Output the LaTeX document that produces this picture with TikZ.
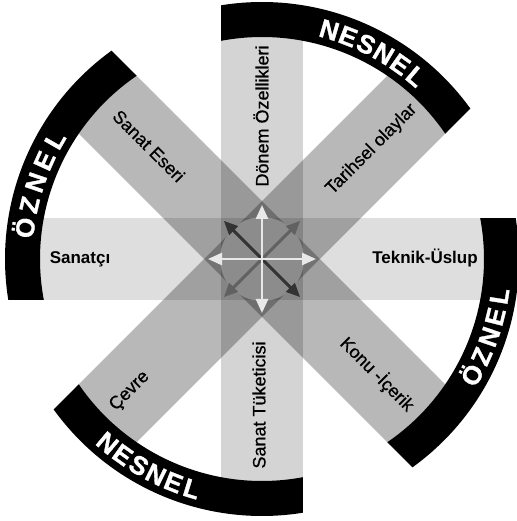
\documentclass[tikz,border=0pt]{standalone}
\usepackage{fontspec}
\setmainfont{Liberation Sans}
\newfontfamily\ringfont[BoldFeatures={FakeBold=1.3}]{Liberation Sans}
\newfontfamily\labelfont[FakeBold=0.7]{Liberation Sans}
\usepackage{tikz}
\usetikzlibrary{arrows.meta}
\colorlet{ringblack}{black}
\colorlet{hubgray}{black!45}
\colorlet{crosswhite}{black!9}
\colorlet{darkarrow}{black!80}
\colorlet{midarrow}{black!62}
\tikzset{
  band/.style={fill=black,fill opacity=#1},
  bandlabel/.style={font=\labelfont\fontsize{18}{20}\selectfont,inner sep=0pt},
  sidelabel/.style={font=\bfseries\fontsize{17}{19}\selectfont,inner sep=0pt,anchor=base},
  ringletter/.style={text=white,font=\ringfont\bfseries\fontsize{26}{28}\selectfont,inner sep=0pt,anchor=base},
  hubarrow/.style={line width=3pt,{Triangle[length=14pt,width=12pt]}-{Triangle[length=14pt,width=12pt]}}
}

\begin{document}
\begin{tikzpicture}[x=1pt,y=1pt]
      \useasboundingbox (-262,-262) rectangle (254,259);

      \fill [band=0.13] (-222,-41) rectangle (222,41);
      \fill [band=0.17] (-41,-222) rectangle (41,222);
      \fill [band=0.28,rotate=45] (-222,-41) rectangle (222,41);
      \fill [band=0.28,rotate=-45] (-222,-41) rectangle (222,41);

      \foreach \t in {0,90,180,270}
        \fill [ringblack] ({\t+10.64}:222) -- ({\t+9.18}:257)
          arc [start angle=\t+9.18, end angle=\t-54.18, radius=257pt]
          -- ({\t-55.64}:222)
          arc [start angle=\t-55.64, end angle=\t+10.64, radius=222pt] -- cycle;

      \foreach \ch [count=\i, evaluate=\i as \a using 73.6-(\i-1)*4.75] in {N,E,S,N,E,L}
        \node (topring\i) [ringletter,rotate=\a-90] at (\a:229.7) {\ch};
      \foreach \ch [count=\i, evaluate=\i as \a using 172.5-(\i-1)*5.6] in {Ö,Z,N,E,L}
        \node (leftring\i) [ringletter,rotate=\a-90] at (\a:229.7) {\ch};
      \foreach \ch [count=\i, evaluate=\i as \a using 230+(\i-1)*4.6] in {N,E,S,N,E,L}
        \node (bottomring\i) [ringletter,rotate=\a+90] at (\a:249.3) {\ch};
      \foreach \ch [count=\i, evaluate=\i as \a using -28.9+(\i-1)*5.0] in {Ö,Z,N,E,L}
        \node (rightring\i) [ringletter,rotate=\a+90] at (\a:249.3) {\ch};

      \node (sanatci) [sidelabel] at (-182,-5) {Sanatçı};
      \node (teknik) [sidelabel] at (163,-5) {Teknik-Üslup};
      \node (donem) [bandlabel,rotate=90] at (-1,143) {Dönem Özellikleri};
      \node (tuketici) [bandlabel,rotate=90] at (-3,-146) {Sanat Tüketicisi};
      \node (eser) [bandlabel,rotate=-45] at (135:160) {Sanat Eseri};
      \node (tarih) [bandlabel,rotate=45] at (45:155) {Tarihsel olaylar};
      \node (konu) [bandlabel,rotate=-45] at (-45:163) {Konu -İçerik};
      \node (cevre) [bandlabel,rotate=45] at (225:187) {Çevre};

      \fill [hubgray] (0,0) circle [radius=42pt];
      \coordinate (hubn) at (90:54);
      \coordinate (hubs) at (270:54);
      \coordinate (hube) at (0:54);
      \coordinate (hubw) at (180:54);
      \coordinate (hubne) at (45:54);
      \coordinate (hubnw) at (135:54);
      \coordinate (hubse) at (-45:54);
      \coordinate (hubsw) at (225:54);
      \draw [hubarrow,midarrow] (hubne) -- (hubsw);
      \draw [hubarrow,darkarrow] (hubnw) -- (hubse);
      \draw [hubarrow,crosswhite,line width=2.5pt] (hubw) -- (hube);
      \draw [hubarrow,crosswhite,line width=2.5pt] (hubn) -- (hubs);
\end{tikzpicture}
\end{document}
